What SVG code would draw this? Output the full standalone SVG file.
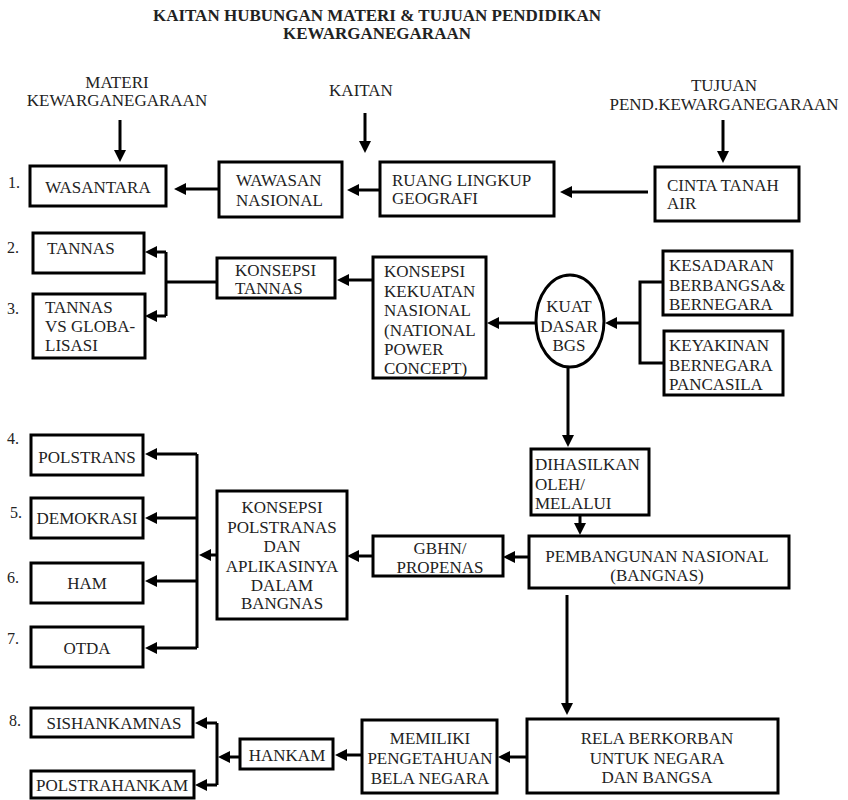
<svg xmlns="http://www.w3.org/2000/svg" width="848" height="800" viewBox="0 0 848 800">
<defs>
<marker id="ah" markerUnits="userSpaceOnUse" markerWidth="12" markerHeight="12" refX="6" refY="6" orient="auto">
<path d="M0,0 L12,6 L0,12 z" fill="#000"/>
</marker>
<style>
text{font-family:"Liberation Serif","Times New Roman",serif;font-size:17px;fill:#222}
.t{font-weight:bold;text-anchor:middle}
.c{text-anchor:middle}
.n{font-size:16px}
rect,ellipse{fill:#fff;stroke:#000;stroke-width:3}
.ln{fill:none;stroke:#000;stroke-width:3}
.ar{fill:none;stroke:#000;stroke-width:3;marker-end:url(#ah)}
</style>
</defs>
<rect x="0" y="0" width="848" height="800" style="stroke:none;fill:#fff"/>
<g id="title">
<text class="t" x="377" y="21">KAITAN HUBUNGAN MATERI &amp; TUJUAN PENDIDIKAN</text>
<text class="t" x="377" y="39">KEWARGANEGARAAN</text>
</g>
<g id="headers">
<text class="c" x="117" y="88">MATERI</text>
<text class="c" x="117" y="106">KEWARGANEGARAAN</text>
<text class="c" x="361" y="96">KAITAN</text>
<text class="c" x="724" y="91">TUJUAN</text>
<text class="c" x="724" y="110">PEND.KEWARGANEGARAAN</text>
</g>
<g id="numbers">
<text class="n" x="8" y="188">1.</text>
<text class="n" x="7" y="253">2.</text>
<text class="n" x="7" y="314">3.</text>
<text class="n" x="7" y="444">4.</text>
<text class="n" x="10" y="518">5.</text>
<text class="n" x="7" y="583">6.</text>
<text class="n" x="7" y="644">7.</text>
<text class="n" x="9" y="726">8.</text>
</g>
<g id="connectors">
<path class="ar" d="M120,120 V156"/>
<path class="ar" d="M365,113 V147"/>
<path class="ar" d="M723,120 V157"/>
<path class="ar" d="M648,192 H566"/>
<path class="ar" d="M380,190 H353"/>
<path class="ar" d="M219,189 H180"/>
<path class="ln" d="M217,282 H166"/>
<path class="ln" d="M166,252 V316"/>
<path class="ar" d="M166,252 H151"/>
<path class="ar" d="M166,316 H151"/>
<path class="ar" d="M373,280 H343"/>
<path class="ar" d="M536,323 H493"/>
<path class="ar" d="M640,323 H611"/>
<path class="ln" d="M663,282 H640 V363 H664"/>
<path class="ar" d="M568,367 V441"/>
<path class="ar" d="M580,515 V529"/>
<path class="ar" d="M529,557 H509"/>
<path class="ar" d="M373,556 H353"/>
<path class="ar" d="M217,555 H205"/>
<path class="ln" d="M197,454 V648"/>
<path class="ar" d="M197,454 H151"/>
<path class="ar" d="M197,518 H151"/>
<path class="ar" d="M197,581 H151"/>
<path class="ar" d="M197,648 H151"/>
<path class="ar" d="M567,595 V709"/>
<path class="ar" d="M527,757 H504"/>
<path class="ar" d="M362,755 H341"/>
<path class="ar" d="M240,757 H224"/>
<path class="ln" d="M217,723 V785"/>
<path class="ar" d="M217,723 H201"/>
<path class="ar" d="M217,785 H201"/>
</g>
<g id="wasantara"><rect x="30" y="166" width="136" height="40"/><text class="c" x="98" y="193">WASANTARA</text></g>
<g id="wawasan"><rect x="219" y="162" width="123" height="55"/><text x="236" y="186">WAWASAN</text><text x="236" y="206">NASIONAL</text></g>
<g id="ruang"><rect x="380" y="162" width="174" height="54"/><text x="392" y="186">RUANG LINGKUP</text><text x="392" y="204">GEOGRAFI</text></g>
<g id="cinta"><rect x="655" y="167" width="144" height="54"/><text x="667" y="191">CINTA TANAH</text><text x="667" y="209">AIR</text></g>
<g id="tannas"><rect x="33" y="233" width="111" height="40"/><text x="47" y="254">TANNAS</text></g>
<g id="tannas-vs"><rect x="33" y="294" width="112" height="64"/><text x="45" y="313">TANNAS</text><text x="45" y="332">VS GLOBA-</text><text x="45" y="351">LISASI</text></g>
<g id="konsepsi-tannas"><rect x="217" y="258" width="118" height="40"/><text x="235" y="276">KONSEPSI</text><text x="235" y="294">TANNAS</text></g>
<g id="konsepsi-kekuatan"><rect x="373" y="257" width="113" height="121"/><text x="384" y="277">KONSEPSI</text><text x="384" y="297">KEKUATAN</text><text x="384" y="316">NASIONAL</text><text x="384" y="336">(NATIONAL</text><text x="384" y="355">POWER</text><text x="384" y="374">CONCEPT)</text></g>
<g id="kuat"><ellipse cx="570" cy="321" rx="34" ry="46"/><text class="c" x="569" y="312">KUAT</text><text class="c" x="569" y="332">DASAR</text><text class="c" x="569" y="351">BGS</text></g>
<g id="kesadaran"><rect x="663" y="251" width="129" height="64"/><text x="669" y="271">KESADARAN</text><text x="669" y="291">BERBANGSA&amp;</text><text x="669" y="310">BERNEGARA</text></g>
<g id="keyakinan"><rect x="664" y="331" width="119" height="64"/><text x="669" y="351">KEYAKINAN</text><text x="669" y="371">BERNEGARA</text><text x="669" y="390">PANCASILA</text></g>
<g id="dihasilkan"><rect x="531" y="449" width="118" height="66"/><text x="535" y="470">DIHASILKAN</text><text x="535" y="490">OLEH/</text><text x="535" y="509">MELALUI</text></g>
<g id="bangnas"><rect x="529" y="536" width="260" height="52"/><text class="c" x="657" y="562">PEMBANGUNAN NASIONAL</text><text class="c" x="657" y="581">(BANGNAS)</text></g>
<g id="gbhn"><rect x="373" y="536" width="130" height="40"/><text class="c" x="440" y="554">GBHN/</text><text class="c" x="440" y="573">PROPENAS</text></g>
<g id="konsepsi-polstranas"><rect x="217" y="491" width="130" height="128"/><text class="c" x="282" y="513">KONSEPSI</text><text class="c" x="282" y="533">POLSTRANAS</text><text class="c" x="282" y="552">DAN</text><text class="c" x="282" y="572">APLIKASINYA</text><text class="c" x="282" y="591">DALAM</text><text class="c" x="282" y="609">BANGNAS</text></g>
<g id="polstrans"><rect x="31" y="435" width="112" height="40"/><text class="c" x="87" y="463">POLSTRANS</text></g>
<g id="demokrasi"><rect x="31" y="498" width="112" height="40"/><text class="c" x="87" y="524">DEMOKRASI</text></g>
<g id="ham"><rect x="31" y="563" width="112" height="40"/><text class="c" x="87" y="589">HAM</text></g>
<g id="otda"><rect x="31" y="627" width="112" height="40"/><text class="c" x="87" y="654">OTDA</text></g>
<g id="rela"><rect x="527" y="719" width="251" height="74"/><text class="c" x="657" y="744">RELA BERKORBAN</text><text class="c" x="657" y="764">UNTUK NEGARA</text><text class="c" x="657" y="783">DAN BANGSA</text></g>
<g id="memiliki"><rect x="362" y="720" width="135" height="73"/><text class="c" x="430" y="744">MEMILIKI</text><text class="c" x="430" y="764">PENGETAHUAN</text><text class="c" x="430" y="784">BELA NEGARA</text></g>
<g id="hankam"><rect x="240" y="739" width="93" height="30"/><text class="c" x="287" y="761">HANKAM</text></g>
<g id="sishankamnas"><rect x="31" y="708" width="162" height="29"/><text class="c" x="114" y="729">SISHANKAMNAS</text></g>
<g id="polstrahankam"><rect x="31" y="771" width="163" height="27"/><text class="c" x="112" y="791">POLSTRAHANKAM</text></g>
</svg>
